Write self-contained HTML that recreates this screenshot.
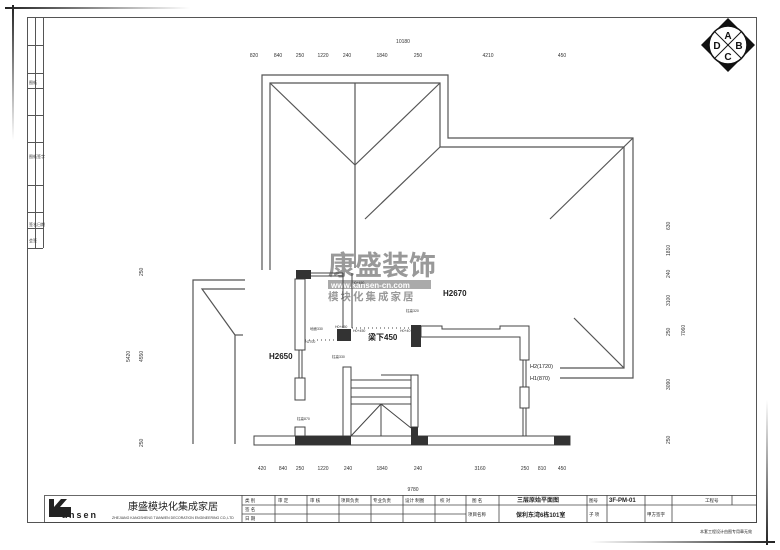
<!DOCTYPE html>
<html><head><meta charset="utf-8"><style>
html,body{margin:0;padding:0;background:#fff;}
svg{display:block;}
text{font-family:"Liberation Sans","Noto Sans CJK SC",sans-serif;}
</style></head><body>
<svg width="780" height="550" viewBox="0 0 780 550" xmlns="http://www.w3.org/2000/svg">
<defs>
<linearGradient id="gh" x1="0" x2="1" y1="0" y2="0"><stop offset="0" stop-color="#222"/><stop offset="1" stop-color="#fff"/></linearGradient>
<linearGradient id="gv" x1="0" x2="0" y1="0" y2="1"><stop offset="0" stop-color="#222"/><stop offset="1" stop-color="#fff"/></linearGradient>
<linearGradient id="gh2" x1="1" x2="0" y1="0" y2="0"><stop offset="0" stop-color="#222"/><stop offset="1" stop-color="#fff"/></linearGradient>
<linearGradient id="gv2" x1="0" x2="0" y1="1" y2="0"><stop offset="0" stop-color="#222"/><stop offset="1" stop-color="#fff"/></linearGradient>
</defs>
<rect x="5" y="7" width="185" height="2" fill="url(#gh)"/>
<rect x="12" y="5" width="2" height="135" fill="url(#gv)"/>
<rect x="590" y="541" width="185" height="2" fill="url(#gh2)"/>
<rect x="766" y="400" width="2" height="145" fill="url(#gv2)"/>
<g fill="none" stroke="#555" stroke-width="1">
<rect x="27.5" y="17.5" width="729" height="505"/>
<line x1="43.5" y1="17" x2="43.5" y2="248"/>
<line x1="35.5" y1="17" x2="35.5" y2="248"/>
<line x1="27" y1="45.5" x2="43" y2="45.5"/>
<line x1="27" y1="73.5" x2="43" y2="73.5"/>
<line x1="27" y1="88.5" x2="43" y2="88.5"/>
<line x1="27" y1="115.5" x2="43" y2="115.5"/>
<line x1="27" y1="142.5" x2="43" y2="142.5"/>
<line x1="27" y1="185.5" x2="43" y2="185.5"/>
<line x1="27" y1="212.5" x2="43" y2="212.5"/>
<line x1="27" y1="228.5" x2="43" y2="228.5"/>
<line x1="27" y1="248.5" x2="43" y2="248.5"/>
</g>
<g font-size="4" fill="#333">
<text x="29" y="84">图纸</text><text x="29" y="158">图纸 </text><text x="37" y="158">签字</text>
<text x="29" y="226">签名</text><text x="37" y="226">日期</text><text x="29" y="242">会签</text>
</g>
<g transform="translate(728,45)">
<polygon points="0,-27 27,0 0,27 -27,0" fill="#111"/>
<circle r="19" fill="#fff" stroke="#111" stroke-width="1.5"/>
<line x1="-13" y1="-13" x2="13" y2="13" stroke="#111"/>
<line x1="13" y1="-13" x2="-13" y2="13" stroke="#111"/>
<g font-size="10" font-weight="bold" text-anchor="middle" fill="#111">
<text x="0" y="-6">A</text><text x="11" y="4">B</text><text x="0" y="15">C</text><text x="-11" y="4">D</text>
</g>
</g>
<g font-size="5" fill="#333" text-anchor="middle">
<text x="403" y="43">10180</text>
<text x="254" y="57">820</text><text x="278" y="57">840</text><text x="300" y="57">250</text><text x="323" y="57">1220</text><text x="347" y="57">240</text><text x="382" y="57">1840</text><text x="418" y="57">250</text><text x="488" y="57">4210</text><text x="562" y="57">450</text>
<text x="262" y="470">420</text><text x="283" y="470">840</text><text x="300" y="470">250</text><text x="323" y="470">1220</text><text x="348" y="470">240</text><text x="382" y="470">1840</text><text x="418" y="470">240</text><text x="480" y="470">3160</text><text x="525" y="470">250</text><text x="542" y="470">810</text><text x="562" y="470">450</text>
<text x="413" y="491">9780</text>
</g>
<g font-size="5" fill="#333">
<text transform="translate(143,276) rotate(-90)">250</text>
<text transform="translate(130,362) rotate(-90)">5420</text>
<text transform="translate(143,362) rotate(-90)">4550</text>
<text transform="translate(143,447) rotate(-90)">250</text>
<text transform="translate(670,230) rotate(-90)">630</text>
<text transform="translate(670,256) rotate(-90)">1810</text>
<text transform="translate(670,278) rotate(-90)">240</text>
<text transform="translate(670,306) rotate(-90)">3100</text>
<text transform="translate(670,336) rotate(-90)">250</text>
<text transform="translate(685,336) rotate(-90)">7060</text>
<text transform="translate(670,390) rotate(-90)">3090</text>
<text transform="translate(670,444) rotate(-90)">250</text>
</g>
<g fill="none" stroke="#555" stroke-width="1.2">
<polyline points="262,270 262,75 448,75 448,138 633,138 633,378 560,378"/>
<polyline points="270,270 270,83 440,83 440,147 624,147 624,368 560,368"/>
<line x1="270" y1="83" x2="355" y2="165"/>
<line x1="440" y1="83" x2="355" y2="165"/>
<line x1="355" y1="83" x2="355" y2="268"/>
<line x1="440" y1="147" x2="365" y2="219"/>
<line x1="633" y1="138" x2="550" y2="219"/>
<line x1="574" y1="318" x2="624" y2="368"/>
<polyline points="245,280 193,280 193,444"/>
<polyline points="245,289 202,289 235,335 235,444"/>
<line x1="235" y1="335" x2="243" y2="335"/>
</g>
<g fill="#999" font-weight="bold">
<text x="328" y="275" font-size="27">康盛装饰</text>
<rect x="328" y="280" width="103" height="9" fill="#aaa"/>
<text x="331" y="288" font-size="8" fill="#fff">www.kansen-cn.com</text>
<text x="328" y="300" font-size="10.5" letter-spacing="2">模块化集成家居</text>
</g>
<g fill="#fff" stroke="#444" stroke-width="1">
<rect x="295" y="279" width="10" height="71"/>
<line x1="299" y1="350" x2="299" y2="378"/><line x1="302" y1="350" x2="302" y2="378"/>
<rect x="295" y="378" width="10" height="22"/>
<line x1="311" y1="273" x2="343" y2="273"/><line x1="311" y1="276" x2="343" y2="276"/>
<line x1="343" y1="273" x2="343" y2="328"/><line x1="352" y1="273" x2="352" y2="328"/>
<path d="M421,326 H442 V329 H500 V326 H529 V360 H520 V337 H421 Z"/>
<line x1="523" y1="360" x2="523" y2="436"/><line x1="526" y1="360" x2="526" y2="436"/>
<rect x="520" y="387" width="9" height="21"/>
<rect x="254" y="436" width="316" height="9"/>
<rect x="295" y="427" width="10" height="9"/>
<rect x="343" y="367" width="8" height="69"/>
<rect x="411" y="375" width="7" height="52"/>
</g>
<g stroke="#444" stroke-width="1" fill="none">
<line x1="351" y1="380" x2="411" y2="380"/>
<line x1="351" y1="388" x2="411" y2="388"/>
<line x1="351" y1="397" x2="411" y2="397"/>
<line x1="351" y1="404" x2="411" y2="404"/>
<line x1="381" y1="375" x2="411" y2="375"/>
<line x1="381" y1="404" x2="351" y2="436"/>
<line x1="381" y1="404" x2="411" y2="428"/>
<line x1="381" y1="404" x2="381" y2="436"/>
<line x1="352" y1="328" x2="411" y2="328" stroke-dasharray="1,3"/>
<line x1="305" y1="340" x2="337" y2="340" stroke-dasharray="1,3"/>
</g>
<g fill="#333">
<rect x="296" y="270" width="15" height="9"/>
<rect x="337" y="329" width="14" height="12"/>
<rect x="411" y="325" width="10" height="22"/>
<rect x="295" y="436" width="56" height="9"/>
<path d="M411,427 H418 V436 H428 V445 H411 Z"/>
<rect x="554" y="436" width="16" height="9"/>
</g>
<g font-size="8" font-weight="bold" fill="#222">
<text x="443" y="296">H2670</text>
<text x="269" y="359">H2650</text>
<text x="368" y="340">梁下450</text>
</g>
<g font-size="5.5" fill="#222">
<text x="530" y="368">H2(1720)</text>
<text x="530" y="380">H1(870)</text>
</g>
<g font-size="3.5" fill="#333">
<text x="406" y="312">柱高320</text><text x="332" y="358">柱高330</text><text x="297" y="420">柱高870</text>
<text x="310" y="330">地面330</text><text x="305" y="343">H2700</text><text x="335" y="328">H0+450</text><text x="353" y="332">H0+450</text><text x="400" y="332">H0+40</text><text x="352" y="284">H0+450</text>
</g>
<g fill="none" stroke="#444" stroke-width="0.8">
<rect x="44.5" y="495.5" width="712" height="27"/>
<line x1="242" y1="495" x2="242" y2="523"/>
<line x1="275" y1="495" x2="275" y2="523"/>
<line x1="307" y1="495" x2="307" y2="523"/>
<line x1="339" y1="495" x2="339" y2="523"/>
<line x1="371" y1="495" x2="371" y2="523"/>
<line x1="403" y1="495" x2="403" y2="523"/>
<line x1="435" y1="495" x2="435" y2="523"/>
<line x1="466" y1="495" x2="466" y2="523"/>
<line x1="499" y1="495" x2="499" y2="523"/>
<line x1="587" y1="495" x2="587" y2="523"/>
<line x1="607" y1="495" x2="607" y2="523"/>
<line x1="645" y1="495" x2="645" y2="523"/>
<line x1="672" y1="495" x2="672" y2="523"/>
<line x1="732" y1="495" x2="732" y2="505"/>
<line x1="242" y1="505" x2="466" y2="505"/>
<line x1="242" y1="514" x2="466" y2="514"/>
<line x1="466" y1="505" x2="757" y2="505"/>
</g>
<g font-size="4.5" fill="#222">
<text x="245" y="502">类 别</text><text x="278" y="502">审 定</text><text x="310" y="502">审 核</text><text x="341" y="502">项目负责</text><text x="373" y="502">专业负责</text><text x="405" y="502">设计 制图</text><text x="440" y="502">校 对</text><text x="472" y="502">图 名</text>
<text x="245" y="511">签 名</text><text x="245" y="520">日 期</text><text x="468" y="516">项目名称</text>
<text x="589" y="502">图号</text><text x="589" y="516">子 项</text><text x="647" y="516">甲方签字</text><text x="705" y="502">工程号</text>
<text x="700" y="533" font-size="4">本套工程设计由图专用章无效</text>
</g>
<g font-size="6" font-weight="bold" fill="#222">
<text x="517" y="502">三层原始平面图</text>
<text x="609" y="502">3F-PM-01</text>
<text x="516" y="517">保利东湾6栋101室</text>
</g>
<g>
<path d="M49,499 h5 v8 l7,-8 h6 l-7,8 h11 v10 h-22 z" fill="#222"/>
<text x="62" y="518" font-size="9" font-weight="bold" fill="#222" letter-spacing="2">ansen</text>
<text x="128" y="510" font-size="10" fill="#222" font-family="Liberation Serif,Noto Serif CJK SC,serif">康盛模块化集成家居</text>
<text x="112" y="519" font-size="3.5" fill="#333">ZHEJIANG KANGSHENG TIANWEN DECORATION ENGINEERING CO.,LTD</text>
</g>
</svg>
</body></html>
